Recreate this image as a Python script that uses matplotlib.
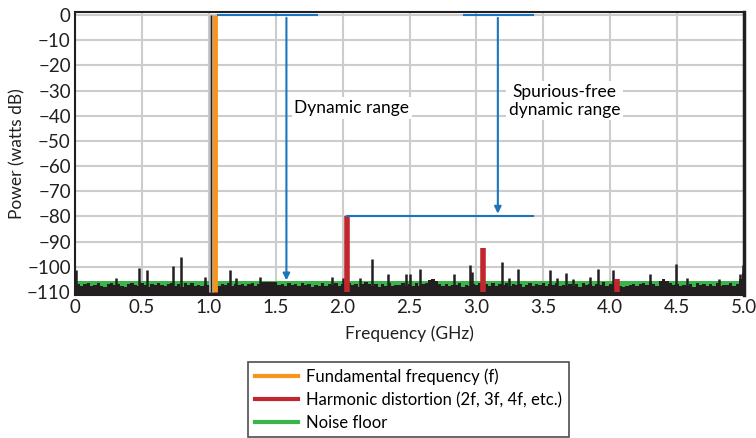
import numpy as np
import matplotlib
matplotlib.use("Agg")
import matplotlib.pyplot as plt
from matplotlib.lines import Line2D

plt.rcParams['font.family'] = ['Lato', 'DejaVu Sans']

# noise floor, sampled every 0.025 GHz from 0 to 5.0
noise_freq = np.linspace(0, 5.0, 201)
noise_db = [
    -104.0, -106.8, -107.6, -107.0, -106.4, -107.8, -107.2, -106.6, -107.5, -107.9,
    -106.9, -106.3, -107.4, -106.8, -107.6, -108.0, -107.0, -106.5, -107.3, -107.8,
    -106.6, -107.2, -107.9, -106.9, -107.4, -106.4, -107.1, -107.7, -106.8, -106.3,
    -107.5, -107.0, -107.9, -106.6, -107.3, -106.5, -107.8, -107.1, -107.6, -106.8,
    -107.2, -107.9, -106.9, -107.5, -106.7, -107.3, -106.5, -107.8, -106.7, -107.4,
    -106.8, -107.6, -107.0, -106.4, -107.5, -106.9, -105.9, -105.9, -105.9, -106.0,
    -105.9, -107.4, -106.8, -107.8, -106.6, -107.3, -106.9, -107.7, -106.5, -107.2,
    -106.9, -108.0, -107.1, -107.5, -106.6, -107.8, -107.0, -107.4, -106.4, -107.6,
    -106.9, -107.7, -106.5, -107.3, -106.8, -107.9, -107.0, -106.1, -106.8, -107.5,
    -106.7, -108.0, -107.0, -107.5, -106.5, -107.7, -107.1, -107.4, -106.4, -107.6,
    -106.8, -107.5, -106.4, -107.7, -107.0, -106.3, -105.3, -104.8, -105.6, -106.7,
    -107.6, -106.8, -107.8, -107.1, -107.4, -106.6, -107.9, -107.2, -107.5, -106.8,
    -107.4, -106.6, -107.8, -107.0, -107.5, -106.5, -107.7, -106.9, -107.3, -106.4,
    -107.6, -107.0, -107.4, -106.7, -107.9, -107.2, -106.4, -107.5, -106.8, -107.3,
    -106.6, -107.7, -107.0, -107.4, -106.5, -107.8, -107.2, -107.5, -106.7, -107.6,
    -106.9, -108.0, -106.6, -107.3, -106.8, -107.7, -107.0, -107.4, -106.2, -107.5,
    -106.8, -107.3, -106.6, -107.8, -108.2, -107.8, -107.3, -106.8, -107.5, -107.0,
    -106.4, -107.3, -106.0, -106.8, -107.5, -105.8, -105.0, -105.6, -106.5, -107.3,
    -106.7, -107.8, -107.1, -107.5, -106.9, -108.0, -106.6, -107.3, -106.9, -107.7,
    -107.0, -107.5, -106.5, -107.8, -107.1, -107.4, -106.6, -107.5, -106.8, -105.0,
    -102.5]

# narrow spurious spikes above the floor
spike_freq = [0.01, 0.31, 0.48, 0.54, 0.73, 0.79, 0.97, 1.16, 1.20, 1.38, 1.92, 2.00, 2.13,
              2.22, 2.34, 2.47, 2.50, 2.58, 2.83, 2.95, 2.97, 3.19, 3.24, 3.31, 3.55, 3.60,
              3.67, 3.72, 3.85, 3.91, 4.02, 4.30, 4.49, 4.57, 4.81, 4.97, 4.995]
spike_db = [-101.2, -104.4, -100.5, -101.4, -99.6, -96.2, -104.0, -101.2, -104.4, -104.0,
            -104.2, -104.4, -104.6, -96.9, -102.7, -102.9, -102.9, -101.0, -102.9, -99.2,
            -102.0, -97.9, -104.4, -101.0, -101.4, -104.4, -102.3, -105.0, -104.2, -101.0,
            -101.2, -102.9, -98.8, -104.4, -105.0, -102.7, -99.2]

fund_freq = 1.045
fund_db = 0
ref_freq = 1.02
harm_freq = [2.03, 3.05, 4.05]
harm_db = [-80, -92.5, -105]

floor_db = -105.6
bottom_db = -111.2

orange = '#F7941D'
red = '#C1272D'
green = '#3AB54A'
blue = '#1C75BC'
black = '#231F20'

fig = plt.figure(figsize=(7.56, 4.38), dpi=100)
ax = fig.add_axes([0.0992, 0.3265, 0.885, 0.646])

ax.fill_between(noise_freq, bottom_db, floor_db, color=green, lw=0, zorder=2)
ax.fill_between(noise_freq, bottom_db, noise_db, step='mid', color=black, lw=0, zorder=3)
ax.vlines(spike_freq, bottom_db, spike_db, color=black, lw=1.8, zorder=3)

ax.vlines(ref_freq, -110, 0, color='#BBBBBB', lw=3.5, zorder=4)
ax.vlines(ref_freq, -110, 0, color=black, lw=1, zorder=4)
ax.vlines(fund_freq, -110, fund_db, color=orange, lw=3.5, zorder=5)
ax.vlines(harm_freq, -110, harm_db, color=red, lw=4, zorder=5)

# dynamic range marker
ax.plot([1.07, 1.81], [0, 0], color=blue, lw=1.5, zorder=6)
ax.annotate('', xy=(1.58, -106.5), xytext=(1.58, 0),
            arrowprops=dict(arrowstyle='-|>', color=blue, lw=1.5, mutation_scale=10), zorder=6)
ax.text(1.64, -37, 'Dynamic range', fontsize=12.5, ha='left', va='center', zorder=7,
        bbox=dict(facecolor='white', edgecolor='none', pad=2))

# spurious-free dynamic range marker
ax.plot([2.91, 3.42], [0, 0], color=blue, lw=1.5, zorder=6)
ax.plot([2.03, 3.42], [-80, -80], color=blue, lw=1.5, zorder=6)
ax.annotate('', xy=(3.16, -80), xytext=(3.16, 0),
            arrowprops=dict(arrowstyle='-|>', color=blue, lw=1.5, mutation_scale=10), zorder=6)
ax.text(3.66, -34, 'Spurious-free\ndynamic range', fontsize=12.5, ha='center', va='center',
        linespacing=1.15, zorder=7, bbox=dict(facecolor='white', edgecolor='none', pad=2))

ax.set_xlim(0, 5.0)
ax.set_ylim(bottom_db, 1.2)
ax.set_xticks(np.arange(0, 5.01, 0.5))
ax.set_xticklabels(['0', '0.5', '1.0', '1.5', '2.0', '2.5', '3.0', '3.5', '4.0', '4.5', '5.0'])
ax.set_yticks(np.arange(-110, 1, 10))
ax.tick_params(length=0, labelsize=13.5, pad=3, colors=black)
ax.grid(color='#CCCCCC', lw=1.5, zorder=0)
ax.set_axisbelow(True)
for s in ax.spines.values():
    s.set_color(black)
    s.set_linewidth(1.5)
ax.spines['right'].set_linewidth(2.5)
ax.set_xlabel('Frequency (GHz)', fontsize=12.5, color=black, labelpad=7)
ax.set_ylabel('Power (watts dB)', fontsize=12.5, color=black)
ax.yaxis.set_label_coords(-0.074, 0.5)

handles = [Line2D([], [], color=orange, lw=3),
           Line2D([], [], color=red, lw=3),
           Line2D([], [], color=green, lw=3)]
labels = ['Fundamental frequency (f)', 'Harmonic distortion (2f, 3f, 4f, etc.)', 'Noise floor']
leg = fig.legend(handles, labels, loc='upper center', bbox_to_anchor=(0.5405, 0.1735),
                 borderaxespad=0, fontsize=12, frameon=True, fancybox=False, edgecolor=black,
                 handlelength=2.6, labelspacing=0.4, borderpad=0.4, handletextpad=0.5)
leg.get_frame().set_linewidth(1.2)

fig.savefig('out.png', dpi=100)
